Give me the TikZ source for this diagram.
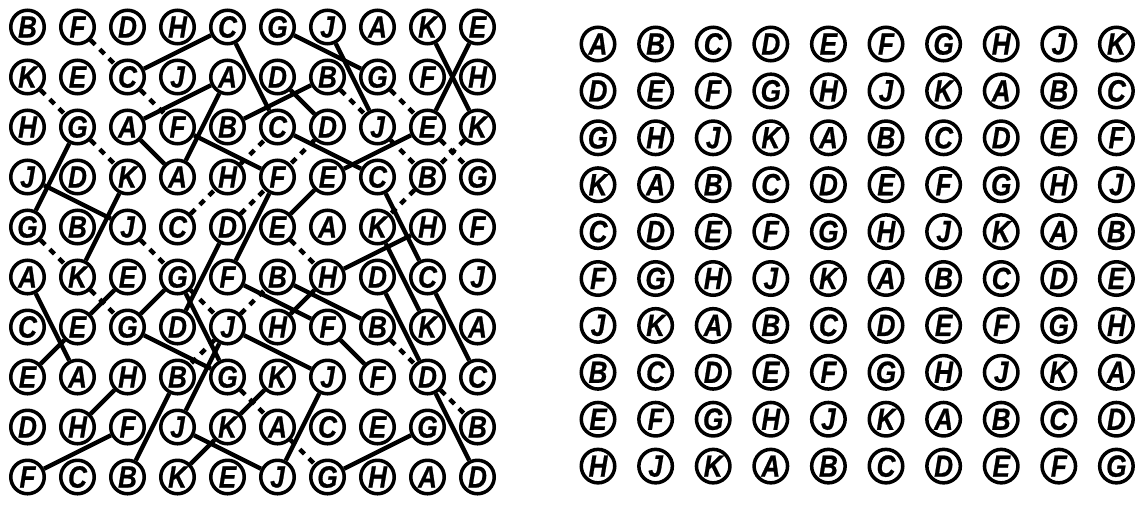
\documentclass[tikz,border=0pt]{standalone}
\usepackage{fontspec}
\newfontfamily\cellfont[FakeStretch=0.85,BoldItalicFeatures={FakeBold=0.7}]{Liberation Sans}

\begin{document}
\begin{tikzpicture}[x=.02cm,y=-.02cm,
        cell/.style={circle,draw,line width=2pt,minimum size=.67cm,inner sep=0pt,font=\cellfont\fontsize{17.5}{17.5}\selectfont\bfseries\itshape},
        link/.style={line width=2.5pt},
        dlink/.style={link,dash pattern=on .13cm off .13cm}]
        \useasboundingbox (0,0) rectangle (1141,505);
        \foreach \row [count=\r] in {{B,F,D,H,C,G,J,A,K,E},{K,E,C,J,A,D,B,G,F,H},{H,G,A,F,B,C,D,J,E,K},{J,D,K,A,H,F,E,C,B,G},{G,B,J,C,D,E,A,K,H,F},
                {A,K,E,G,F,B,H,D,C,J},{C,E,G,D,J,H,F,B,K,A},{E,A,H,B,G,K,J,F,D,C},{D,H,F,J,K,A,C,E,G,B},{F,C,B,K,E,J,G,H,A,D}}
          \foreach \ch [count=\c] in \row \node[cell] (L\r-\c) at ({27.5+50*(\c-1)},{27+50*(\r-1)}) {\ch};
        \foreach \row [count=\r] in {{A,B,C,D,E,F,G,H,J,K},{D,E,F,G,H,J,K,A,B,C},{G,H,J,K,A,B,C,D,E,F},{K,A,B,C,D,E,F,G,H,J},{C,D,E,F,G,H,J,K,A,B},
                {F,G,H,J,K,A,B,C,D,E},{J,K,A,B,C,D,E,F,G,H},{B,C,D,E,F,G,H,J,K,A},{E,F,G,H,J,K,A,B,C,D},{H,J,K,A,B,C,D,E,F,G}}
          \foreach \ch [count=\c] in \row \node[cell] (R\r-\c) at ({598+57.6*(\c-1)},{44+46.9*(\r-1)}) {\ch};
        \foreach \a/\b in {2-3/1-5,1-5/3-6,3-6/4-8,4-8/6-9,6-9/8-10,3-3/2-5,2-5/4-4,3-3/4-4,6-1/8-2,
                3-5/2-7,6-6/7-8,8-4/10-3,2-6/3-7,5-5/7-4,6-8/8-9,8-9/10-10,
                1-10/3-9,3-9/4-7,4-7/5-6,6-3/7-2,7-2/8-1,3-4/4-6,4-6/6-5,6-5/7-7,7-7/8-8,9-3/10-1,
                1-6/2-8,3-2/5-1,6-4/7-3,6-4/8-5,7-3/8-5,9-9/10-7,5-9/6-7,6-7/7-6,8-3/9-2,
                1-7/3-8,4-1/5-3,7-5/9-4,7-5/8-7,8-7/10-6,9-4/10-6,1-9/3-10,4-3/6-2,5-8/7-9,9-5/10-4,9-5/8-6}
          \draw[link] (L\a) -- (L\b);
        \foreach \a/\b in {1-2/2-3,2-1/3-2,2-3/3-4,3-2/4-3,2-7/3-8,2-8/3-9,3-7/4-6,4-5/3-6,3-8/4-9,3-9/4-10,3-10/4-9,4-9/5-8,
                5-4/4-5,5-5/4-6,5-1/6-2,5-3/6-4,5-6/6-7,6-2/7-3,6-4/7-5,7-5/6-6,7-5/8-4,7-8/8-9,8-9/9-10,8-5/9-6,9-6/10-7}
          \draw[dlink] (L\a) -- (L\b);
      \end{tikzpicture}
\end{document}
